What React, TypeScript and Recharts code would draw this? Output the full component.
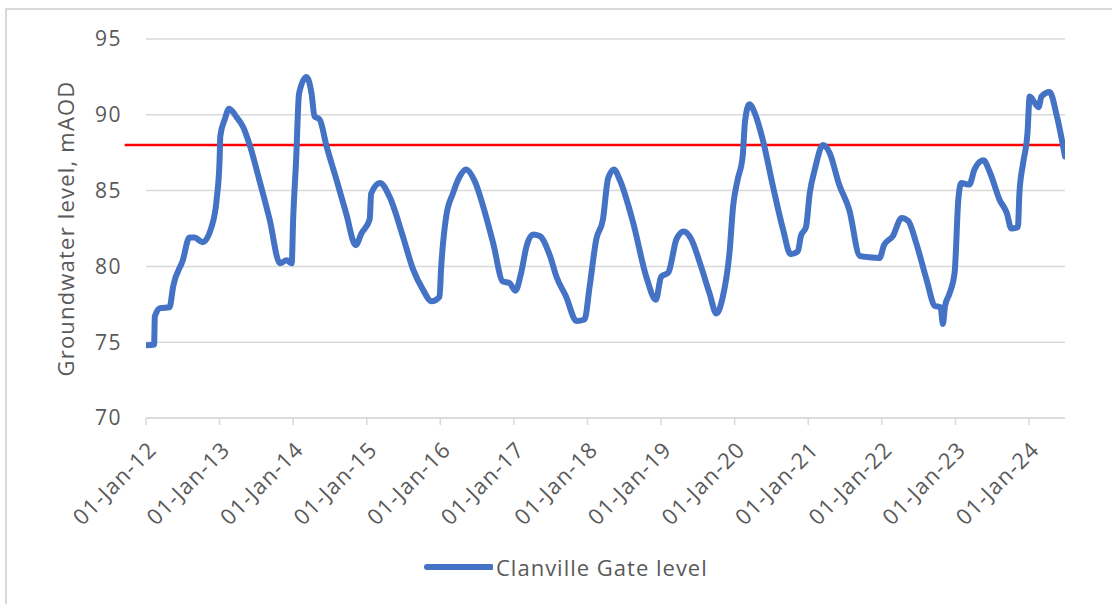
import { LineChart, Line, XAxis, YAxis, CartesianGrid, Legend, ReferenceLine, Label } from "recharts";

// decimal year of each reading
const years = [
  2012.0, 2012.11, 2012.12, 2012.19, 2012.32, 2012.37, 2012.5, 2012.59, 2012.66, 2012.77, 2012.89, 2012.96,
  2013.0, 2013.01, 2013.07, 2013.13, 2013.23, 2013.32, 2013.41, 2013.54, 2013.68, 2013.82, 2013.91, 2013.98,
  2014.0, 2014.04, 2014.08, 2014.18, 2014.25, 2014.29, 2014.36, 2014.45, 2014.59, 2014.72, 2014.85, 2014.93,
  2015.04, 2015.06, 2015.18, 2015.31, 2015.49, 2015.63, 2015.76, 2015.88, 2015.99,
  2016.01, 2016.08, 2016.17, 2016.26, 2016.35, 2016.47, 2016.58, 2016.72, 2016.85, 2016.94,
  2017.02, 2017.1, 2017.17, 2017.26, 2017.35, 2017.49, 2017.58, 2017.71, 2017.85, 2017.96,
  2018.03, 2018.12, 2018.21, 2018.28, 2018.36, 2018.44, 2018.62, 2018.8, 2018.93,
  2019.0, 2019.1, 2019.21, 2019.31, 2019.41, 2019.53, 2019.66, 2019.75, 2019.84, 2019.93, 2019.98,
  2020.04, 2020.11, 2020.14, 2020.2, 2020.29, 2020.38, 2020.52, 2020.66, 2020.76, 2020.86, 2020.9, 2020.97,
  2021.02, 2021.09, 2021.2, 2021.29, 2021.42, 2021.56, 2021.7, 2021.83, 2021.97,
  2022.03, 2022.15, 2022.27, 2022.36, 2022.47, 2022.61, 2022.72, 2022.8, 2022.83, 2022.86, 2022.92, 2022.99,
  2023.04, 2023.08, 2023.19, 2023.26, 2023.38, 2023.47, 2023.6, 2023.7, 2023.76, 2023.85, 2023.87, 2023.92, 2023.98,
  2024.01, 2024.13, 2024.17, 2024.28, 2024.38, 2024.49,
];

// groundwater level, mAOD
const levels = [
  74.8, 74.85, 76.7, 77.25, 77.3, 78.7, 80.4, 81.9, 81.9, 81.6, 82.6, 84.4,
  87.0, 88.6, 89.7, 90.4, 89.85, 89.2, 88.0, 85.7, 83.1, 80.2, 80.4, 80.2,
  83.1, 87.0, 91.4, 92.5, 91.4, 89.9, 89.7, 88.0, 85.7, 83.5, 81.4, 82.2,
  83.1, 84.8, 85.5, 84.6, 82.0, 79.8, 78.5, 77.7, 78.0,
  79.8, 83.3, 84.8, 85.9, 86.4, 85.6, 84.0, 81.5, 79.0, 78.9,
  78.4, 79.6, 81.3, 82.1, 82.0, 80.7, 79.3, 78.0, 76.4, 76.5,
  78.7, 81.8, 83.1, 85.8, 86.4, 85.7, 82.9, 79.3, 77.8,
  79.3, 79.6, 81.8, 82.3, 81.8, 80.2, 78.2, 76.9, 78.0, 80.9, 84.0,
  85.7, 87.3, 89.5, 90.7, 89.9, 88.4, 85.3, 82.4, 80.8, 81.0, 82.0, 82.6,
  84.8, 86.4, 88.0, 87.5, 85.4, 83.7, 80.7, 80.6, 80.55,
  81.4, 82.0, 83.2, 83.0, 81.5, 79.1, 77.4, 77.3, 76.2, 77.4, 78.2, 79.6,
  84.4, 85.5, 85.4, 86.4, 87.0, 86.2, 84.4, 83.5, 82.5, 82.6, 84.8, 86.8, 88.8,
  91.2, 90.5, 91.2, 91.5, 89.9, 87.25,
];

const yearTicks = [2012, 2013, 2014, 2015, 2016, 2017, 2018, 2019, 2020, 2021, 2022, 2023, 2024];
const levelTicks = [70, 75, 80, 85, 90, 95];
const thresholdLevel = 88;
const thresholdFrom = 2011.71;
const seriesName = "Clanville Gate level";
const yTitle = "Groundwater level, mAOD";

const chartData = years.map((t, i) => ({ t, level: levels[i] }));

const FONT = "'Open Sans', 'Noto Sans', sans-serif";
const TEXT = "#595959";
const GRID = "#d9d9d9";
const BLUE = "#4472C4";

const fmtDate = (y: number) => `01-Jan-${String(y).slice(2)}`;

const DateTick = (props: any) => {
  const { x, y, payload } = props;
  return (
    <g transform={`translate(${x + 2},${y + 14})`}>
      <text x={0} y={0} dy={14} textAnchor="end" transform="rotate(-45)" fill={TEXT} fontSize={22} letterSpacing={1.2} fontFamily={FONT}>
        {fmtDate(payload.value)}
      </text>
    </g>
  );
};

const YTitle = (props: any) => {
  const { viewBox } = props;
  const cy = viewBox.y + viewBox.height / 2;
  return (
    <text x={65} y={cy} transform={`rotate(-90, 65, ${cy})`} textAnchor="middle" dominantBaseline="central" fill={TEXT} fontSize={22} letterSpacing={1.2} fontFamily={FONT}>
      {yTitle}
    </text>
  );
};

const LegendContent = () => (
  <div style={{ display: "flex", alignItems: "center", fontFamily: FONT, fontSize: 22, letterSpacing: 1, color: TEXT, lineHeight: "30px" }}>
    <svg width={74} height={10}>
      <line x1={8} y1={5} x2={72} y2={5} stroke={BLUE} strokeWidth={6} strokeLinecap="round" />
    </svg>
    <span style={{ marginLeft: 3 }}>{seriesName}</span>
  </div>
);

export default function App() {
  return (
    <div style={{ position: "absolute", left: 0, top: 0, width: 1112, height: 604, background: "#fff" }}>
      <div style={{ position: "absolute", left: 5, top: 8, right: 0, bottom: 0, borderTop: `2px solid ${GRID}`, borderLeft: `2px solid ${GRID}` }} />
      <LineChart width={1112} height={604} data={chartData} margin={{ top: 39, right: 47, left: 0, bottom: 76 }} style={{ position: "absolute", left: 0, top: 0 }}>
        <CartesianGrid horizontal vertical={false} stroke={GRID} strokeWidth={1.5} />
        <XAxis
          dataKey="t"
          type="number"
          domain={[2012, 2024.49]}
          ticks={yearTicks}
          allowDataOverflow
          height={110}
          stroke={GRID}
          strokeWidth={1.5}
          tickSize={7}
          tick={<DateTick />}
        />
        <YAxis
          type="number"
          domain={[70, 95]}
          ticks={levelTicks}
          width={146}
          axisLine={false}
          tickLine={false}
          tickMargin={18}
          tick={{ fill: TEXT, fontSize: 21, fontFamily: FONT, letterSpacing: 1.5 }}
        >
          <Label content={<YTitle />} />
        </YAxis>
        <ReferenceLine
          segment={[{ x: thresholdFrom, y: thresholdLevel }, { x: 2024.49, y: thresholdLevel }]}
          stroke="#ff0000"
          strokeWidth={2.5}
          ifOverflow="visible"
        />
        <Line
          type="monotone"
          dataKey="level"
          name={seriesName}
          stroke={BLUE}
          strokeWidth={6}
          strokeLinejoin="round"
          strokeLinecap="round"
          dot={false}
          activeDot={false}
          isAnimationActive={false}
        />
        <Legend
          layout="horizontal"
          align="center"
          verticalAlign="middle"
          content={<LegendContent />}
          wrapperStyle={{ top: 552, left: 419, width: 320 }}
        />
      </LineChart>
    </div>
  );
}
